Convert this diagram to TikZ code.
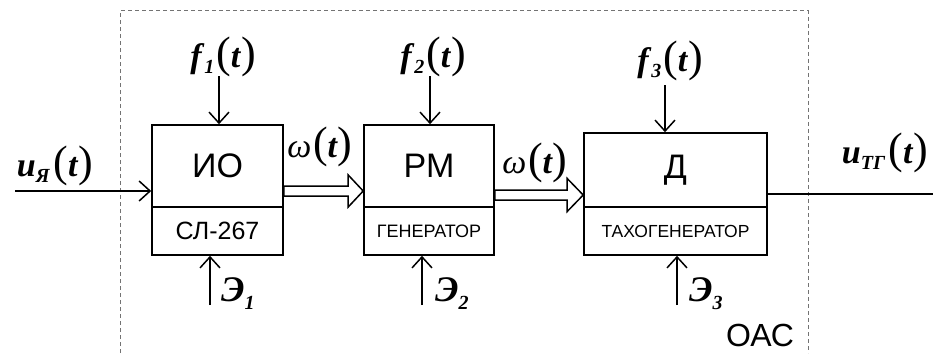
\documentclass[tikz,border=0pt]{standalone}
\usepackage{fontspec}
\setmainfont{Liberation Serif}
\newfontfamily\myarial{Liberation Sans}
\usetikzlibrary{arrows.meta,calc}
\newcommand{\mybi}[1]{\textbf{\textit{#1}}}
\newcommand{\myparen}[1]{{\fontsize{44}{44}\selectfont\normalfont #1}}
\newcommand{\mysig}[2]{{\fontsize{34}{34}\selectfont\mybi{#1}}{\fontsize{20}{20}\selectfont\raisebox{-6pt}{\mybi{#2}}}}
\newcommand{\myt}{\,\myparen{(}{\fontsize{34}{34}\selectfont\mybi{t}}\myparen{)}}
\newcommand{\mye}[1]{{\fontsize{36}{36}\selectfont\mybi{Э}}{\fontsize{20}{20}\selectfont\raisebox{-8pt}{\mybi{#1}}}}
\begin{document}
\begin{tikzpicture}[x=1pt,y=-1pt,
  box/.style={draw, line width=1.6pt, rectangle, inner sep=0pt, font=\myarial},
  arr/.style={line width=1.5pt,-{Straight Barb[length=11pt,width=20pt,line width=1.5pt]}},
  dbl/.style={line width=1.5pt, fill=white},
  lbl/.style={inner sep=0pt}
]
\useasboundingbox (0,0) rectangle (933,353);
% frame
\draw[black!55, line width=1pt, dash pattern=on 4pt off 3pt] (120,353) -- (120,11) -- (808,11) -- (808,353);
% blocks
\node[box, minimum width=131pt, minimum height=82pt, font=\myarial\fontsize{34}{34}\selectfont] (b1u) at (217.5,166) {ИО};
\node[box, minimum width=131pt, minimum height=48pt, font=\myarial\fontsize{25}{25}\selectfont] (b1l) at (217.5,231) {СЛ-267};
\node[box, minimum width=130pt, minimum height=82pt, font=\myarial\fontsize{34}{34}\selectfont] (b2u) at (429,166) {РМ};
\node[box, minimum width=130pt, minimum height=48pt, font=\myarial\fontsize{18}{18}\selectfont] (b2l) at (429,231) {ГЕНЕРАТОР};
\node[box, minimum width=183pt, minimum height=74pt, font=\myarial\fontsize{34}{34}\selectfont] (b3u) at (675.5,170) {Д};
\node[box, minimum width=183pt, minimum height=48pt, font=\myarial\fontsize{17.5}{17.5}\selectfont] (b3l) at (675.5,231) {ТАХОГЕНЕРАТОР};
% input / output
\coordinate (uin) at (15,191);
\draw[arr] (uin) -- (b1u.west |- uin);
\coordinate (uout) at (933,194);
\draw[line width=1.5pt] (b3u.east |- uout) -- (uout);
% double arrows
\coordinate (y1) at (0,191);
\coordinate (d1s) at (b1u.east |- y1);
\coordinate (d1e) at (b2u.west |- y1);
\draw[dbl] ($(d1s)+(0,-5)$) -- ($(d1e)+(-15,-5)$) -- ($(d1e)+(-15,-16)$) -- (d1e) -- ($(d1e)+(-15,16)$) -- ($(d1e)+(-15,5)$) -- ($(d1s)+(0,5)$) -- cycle;
\coordinate (y2) at (0,195);
\coordinate (d2s) at (b2u.east |- y2);
\coordinate (d2e) at (b3u.west |- y2);
\draw[dbl] ($(d2s)+(0,-5)$) -- ($(d2e)+(-16,-5)$) -- ($(d2e)+(-16,-16.5)$) -- (d2e) -- ($(d2e)+(-16,16.5)$) -- ($(d2e)+(-16,5)$) -- ($(d2s)+(0,5)$) -- cycle;
% disturbance arrows
\coordinate (f1) at (219,76);
\draw[arr] (f1) -- (f1 |- b1u.north);
\coordinate (f2) at (430,76);
\draw[arr] (f2) -- (f2 |- b2u.north);
\coordinate (f3) at (665,85);
\draw[arr] (f3) -- (f3 |- b3u.north);
\coordinate (e1) at (210,305);
\draw[arr] (e1) -- (e1 |- b1l.south);
\coordinate (e2) at (422,305);
\draw[arr] (e2) -- (e2 |- b2l.south);
\coordinate (e3) at (677,305);
\draw[arr] (e3) -- (e3 |- b3l.south);
% labels
\node[lbl] (lf1) at (223,57) {\mysig{f}{1}\myt};
\node[lbl] (lf2) at (433,57) {\mysig{f}{2}\myt};
\node[lbl] (lf3) at (670,61) {\mysig{f}{3}\myt};
\node[lbl] (lu) at (55,166) {\mysig{u}{Я}\,\myt};
\node[lbl] (lutg) at (885,153) {\mysig{u}{ТГ}\,\myt};
\node[lbl] (lw1) at (320,147) {{\fontsize{34}{34}\selectfont\textit{ω}}\myt};
\node[lbl] (lw2) at (535,163) {{\fontsize{34}{34}\selectfont\textit{ω}}\myt};
\node[lbl, anchor=west] (le1) at (221,294) {\mye{1}};
\node[lbl, anchor=west] (le2) at (435,294) {\mye{2}};
\node[lbl, anchor=west] (le3) at (689,294) {\mye{3}};
\node[lbl, font=\myarial\fontsize{32}{32}\selectfont] (oac) at (760,335) {ОАС};
\end{tikzpicture}
\end{document}
